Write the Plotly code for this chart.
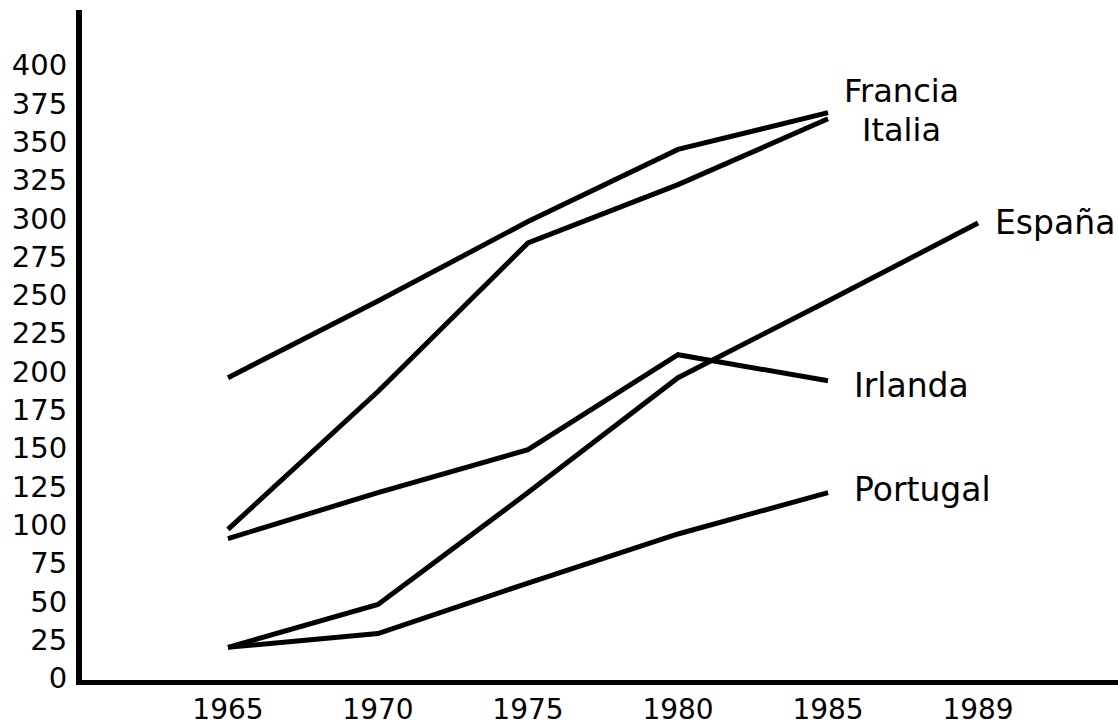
import plotly.graph_objects as go

years = ["1965", "1970", "1975", "1980", "1985", "1989"]
y_ticks = list(range(0, 401, 25))

francia = [196, 246, 298, 345, 369]
italia = [97, 187, 284, 322, 365]
irlanda = [91, 121, 149, 211, 194]
espana = [20, 48, 121, 196, 246, 297]
portugal = [20, 29, 62, 94, 121]

series = [
    ("Francia", francia),
    ("Italia", italia),
    ("Irlanda", irlanda),
    ("España", espana),
    ("Portugal", portugal),
]

# label anchor positions (x in category-index units, value, font size)
labels = [
    ("Francia", 4.09, 383, 32),
    ("Italia", 4.21, 358, 32),
    ("España", 5.10, 297, 33),
    ("Irlanda", 4.16, 191, 33),
    ("Portugal", 4.16, 123, 33),
]

FONT = "DejaVu Sans"

fig = go.Figure()
for name, vals in series:
    fig.add_trace(go.Scatter(
        x=list(range(len(vals))), y=vals, mode="lines", name=name,
        line=dict(color="black", width=5), showlegend=False,
        hoverinfo="skip"))

for text, xi, yv, fs in labels:
    fig.add_annotation(x=xi, y=yv, text=text, showarrow=False,
                       xanchor="left", yanchor="middle",
                       font=dict(family=FONT, size=fs, color="black"))

fig.update_layout(
    width=1118, height=728,
    margin=dict(l=82, r=0, t=10, b=48),
    paper_bgcolor="white", plot_bgcolor="white",
    showlegend=False,
)
fig.update_xaxes(
    range=[-0.973, 5.933],
    tickvals=list(range(len(years))), ticktext=years,
    showgrid=False, zeroline=False,
    showline=True, linecolor="black", linewidth=5,
    ticks="",
    tickfont=dict(family=FONT, size=28, color="black"),
)
fig.update_yaxes(
    range=[-1.3, 436],
    tickvals=y_ticks, ticktext=[str(v) for v in y_ticks],
    showgrid=False, zeroline=False,
    showline=True, linecolor="black", linewidth=6,
    ticks="", ticklabelstandoff=3,
    tickfont=dict(family=FONT, size=29, color="black"),
)

fig.write_html(
    "out.html",
    config={"displayModeBar": False},
    post_script="document.body.style.margin='0';document.body.style.padding='0';",
)
